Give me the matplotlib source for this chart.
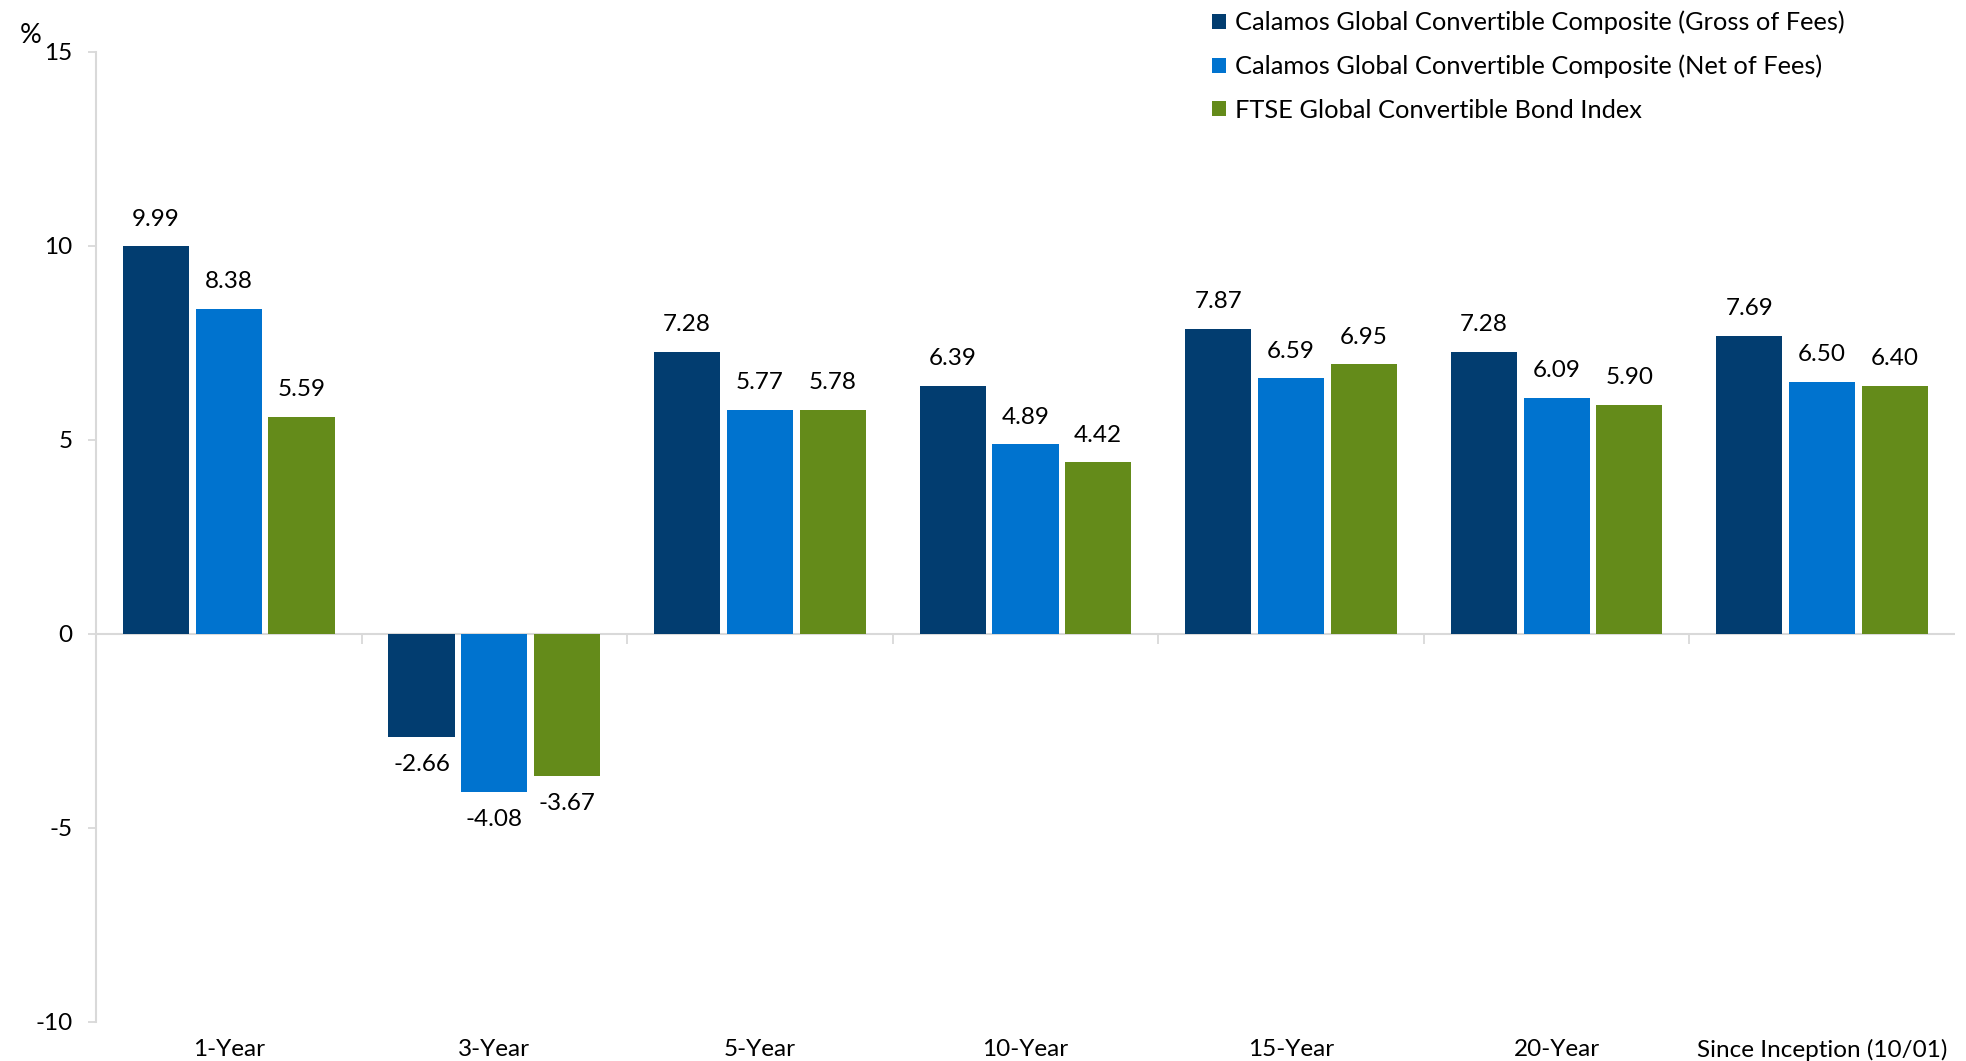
import numpy as np
import matplotlib
matplotlib.use("Agg")
import matplotlib.pyplot as plt

plt.rcParams["font.family"] = ["Lato", "DejaVu Sans"]

categories = ["1-Year", "3-Year", "5-Year", "10-Year", "15-Year", "20-Year",
              "Since Inception (10/01)"]
gross = [9.99, -2.66, 7.28, 6.39, 7.87, 7.28, 7.69]
net = [8.38, -4.08, 5.77, 4.89, 6.59, 6.09, 6.50]
ftse = [5.59, -3.67, 5.78, 4.42, 6.95, 5.90, 6.40]
series_names = ["Calamos Global Convertible Composite (Gross of Fees)",
                "Calamos Global Convertible Composite (Net of Fees)",
                "FTSE Global Convertible Bond Index"]
colors = ["#023D70", "#0073CF", "#648B1A"]
yticks = [-10, -5, 0, 5, 10, 15]

fig = plt.figure(figsize=(19.66, 10.61), dpi=100)
ax = fig.add_axes([0.0488, 0.0368, 0.9456, 0.9142])

x = np.arange(len(categories))
width = 0.249
step = 0.274
grey = "#D9D9D9"

for i, (vals, name, col) in enumerate(zip([gross, net, ftse], series_names, colors)):
    bars = ax.bar(x + (i - 1) * step, vals, width, color=col, label=name, zorder=2)
    for b, v in zip(bars, vals):
        ax.annotate(f"{v:.2f}", (b.get_x() + b.get_width() / 2, v),
                    xytext=(0, 12 if v >= 0 else -12), textcoords="offset points",
                    ha="center", va="bottom" if v >= 0 else "top", fontsize=17.5)

ax.set_xlim(-0.5, len(categories) - 0.5)
ax.set_ylim(-10, 15)
ax.set_yticks(yticks)
ax.set_yticklabels([str(t) for t in yticks])
ax.set_xticks(x)
ax.set_xticklabels(categories)
ax.tick_params(axis="x", length=0, pad=12, labelsize=17.5)
ax.tick_params(axis="y", length=6, color=grey, width=1.3, pad=11, labelsize=17.5)

for s in ["top", "right", "bottom"]:
    ax.spines[s].set_visible(False)
ax.spines["left"].set_color(grey)
ax.spines["left"].set_linewidth(1.5)
ax.axhline(0, color=grey, linewidth=1.5, zorder=1)

# category boundary ticks on the zero line
sec = ax.secondary_xaxis(0.4)
sec.set_xticks(np.arange(len(categories) - 1) + 0.5)
sec.tick_params(length=7, color=grey, width=1.3, labelbottom=False)
sec.spines["bottom"].set_visible(False)

ax.text(-0.041, 1.017, "%", transform=ax.transAxes, fontsize=19.5, va="center")

leg = ax.legend(loc="upper left", bbox_to_anchor=(0.595, 1.053), frameon=False,
                fontsize=18.3, handlelength=0.55, handleheight=0.55, handletextpad=0.35,
                labelspacing=0.8, borderaxespad=0)

fig.savefig("out.png", dpi=100, facecolor="white")
